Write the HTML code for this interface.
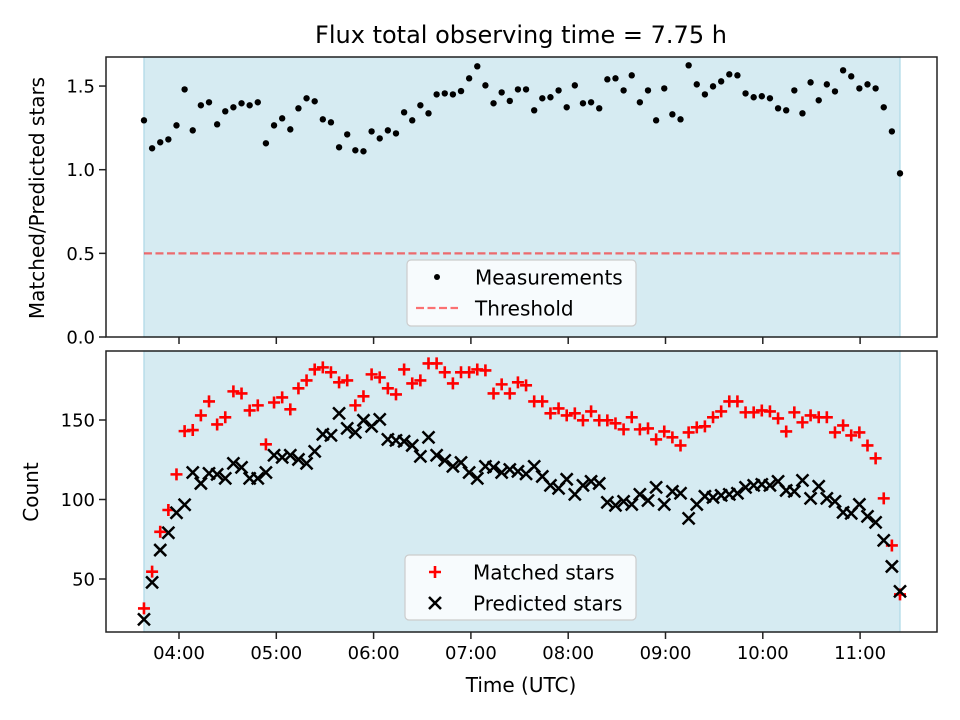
<!DOCTYPE html>
<html><head><meta charset="utf-8"><style>
body{margin:0;background:#fff}
svg{display:block;font-family:"DejaVu Sans","Liberation Sans",sans-serif}
</style></head><body>
<svg id="fig" width="960" height="720" viewBox="0 0 960 720">
<text x="521" y="43" font-size="24" text-anchor="middle" fill="#000">Flux total observing time = 7.75 h</text>
<g id="top"></g>
<g id="bot"></g>
<text x="521" y="692" font-size="20" text-anchor="middle">Time (UTC)</text>
<text transform="translate(44,198) rotate(-90)" font-size="20" text-anchor="middle">Matched/Predicted stars</text>
<text transform="translate(38,492) rotate(-90)" font-size="20" text-anchor="middle">Count</text>
</svg>
<script>
const startHour = 3.64;
const stepHours = 0.08355;
const ratio = [1.295,1.128,1.164,1.181,1.265,1.480,1.235,1.385,1.403,1.271,1.349,1.373,1.397,1.385,1.403,1.158,1.265,1.307,1.241,1.367,1.427,1.409,1.301,1.283,1.134,1.211,1.116,1.110,1.229,1.187,1.235,1.217,1.343,1.295,1.385,1.337,1.450,1.456,1.450,1.470,1.546,1.618,1.504,1.397,1.462,1.411,1.480,1.480,
1.355,1.427,1.433,1.474,1.373,1.504,1.397,1.403,1.367,1.540,1.546,1.474,1.564,1.403,1.474,1.295,1.486,1.331,1.301,1.624,1.510,1.450,1.498,1.528,1.570,1.564,1.456,1.433,1.439,1.427,1.367,1.355,1.474,1.337,1.522,1.415,1.510,1.468,1.594,1.558,1.486,1.510,1.486,1.373,1.229,0.978];
const matched = [31.5,54.6,79.7,93.4,115.8,143,143.7,152.9,161.7,147.2,151.7,168,166.7,156,159.2,134.7,161,164.2,156.7,169.9,174.9,181.8,183.1,180,173.7,174.9,159.2,164.9,178.7,176.8,169.9,166.1,181.8,173,174.9,185.6,185.6,180,173,180,180,181.8,181.2,166.7,172.4,166.7,173.7,171.8,
161.7,161.7,154.2,157.3,152.9,154.2,149.8,155.4,149.8,149.8,147.9,144.1,151.7,144.1,144.7,137.8,142.8,139.1,134,142.2,145.4,146,151.7,155.4,161.7,161.7,154.8,154.8,156,155.4,151,142.8,154.8,148.5,152.9,151.7,151.7,142.2,146.6,140.3,142.2,134,125.9,100.7,71.1,40.3];
const predicted = [24.6,47.9,68.2,79.1,91.7,96.7,117,110.1,116.4,115.8,113.3,122.7,120.2,113.3,113.3,117,127.8,126.5,127.8,125.2,122.7,130.3,141,140.3,154.2,144.7,142.2,149.8,146,150.4,137.8,137.2,136.6,134,127.1,139.1,127.8,124.6,120.8,123.3,117,113.3,120.8,120.2,117,118.9,117.7,116.1,
120.8,114.5,108.9,107,112.7,103.2,108.9,111.4,110.1,98.2,96.3,98.8,96.9,103.2,99.4,107.6,96.9,105.1,103.9,88.1,96.9,102,101.3,102.6,103.2,103.9,107.6,108.9,109.5,108.9,111.4,105.7,105.1,112,100.7,108.3,100.7,98.8,91.9,91.3,96.9,89.4,85.6,74.3,57.9,42.2];
const threshold = [0.5];
const xTickHours = [4,5,6,7,8,9,10,11];
const xTickLabels = ["04:00","05:00","06:00","07:00","08:00","09:00","10:00","11:00"];
const topYTicks = [0,0.5,1.0,1.5];
const topYLabels = ["0.0","0.5","1.0","1.5"];
const botYTicks = [50,100,150];
const botYLabels = ["50","100","150"];

const NS="http://www.w3.org/2000/svg";
function mk(tag, attrs, parent){const e=document.createElementNS(NS,tag);for(const k in attrs)e.setAttribute(k,attrs[k]);parent.appendChild(e);return e;}
const L=106,R=937;
const x=h=>179+(h-4)*97.3;
const times=ratio.map((_,i)=>startHour+i*stepHours);
const yTop=v=>337-v*167.3;
const yBot=v=>420-(v-150)*1.59;

function panel(g, top, bottom, yTicks, yLabels, yf, showXLabels){
  const span=mk('rect',{x:x(startHour),y:top,width:x(times[times.length-1])-x(startHour),height:bottom-top,fill:'#add8e6','fill-opacity':0.5,stroke:'#add8e6','stroke-width':1.2},g);
  
  
  xTickHours.forEach((h,i)=>{
    const t=mk('line',{x1:x(h),x2:x(h),y1:bottom,y2:bottom+7,stroke:'#222','stroke-width':1.5},g);
    
    
    if(showXLabels){
      const tx=mk('text',{x:x(h),y:bottom+27,'font-size':18,'text-anchor':'middle'},g);
      
      
      tx.textContent=xTickLabels[i];
    }
  });
  yTicks.forEach((v,i)=>{
    mk('line',{x1:L-7,x2:L,y1:yf(v),y2:yf(v),stroke:'#222','stroke-width':1.5},g);
    const tx=mk('text',{x:L-11,y:yf(v)+6.5,'font-size':18,'text-anchor':'end'},g);
    
    
    tx.textContent=yLabels[i];
  });
}
const gt=document.getElementById('top'), gb=document.getElementById('bot');
panel(gt,57,337,topYTicks,topYLabels,yTop,false);
panel(gb,351,632,botYTicks,botYLabels,yBot,true);

const th=mk('line',{x1:x(startHour),x2:x(times[times.length-1]),y1:yTop(threshold[0]),y2:yTop(threshold[0]),stroke:'#ff0000','stroke-opacity':0.55,'stroke-width':2.2,'stroke-dasharray':'8,3.5'},gt);


ratio.forEach((v,i)=>{
  const c=mk('circle',{cx:x(times[i]),cy:yTop(v),r:3.2,fill:'#000'},gt);
  
  
});
function plus(cx,cy,g,color){
  return mk('path',{d:`M${cx-6} ${cy}H${cx+6}M${cx} ${cy-6}V${cy+6}`,stroke:color,'stroke-width':2.6,fill:'none'},g);
}
function cross(cx,cy,g){
  return mk('path',{d:`M${cx-6} ${cy-6}L${cx+6} ${cy+6}M${cx-6} ${cy+6}L${cx+6} ${cy-6}`,stroke:'#000','stroke-width':2.5,fill:'none'},g);
}
matched.forEach((v,i)=>{
  const p=plus(x(times[i]),yBot(v),gb,'#ff0000');
  
  
});
predicted.forEach((v,i)=>{
  const p=cross(x(times[i]),yBot(v),gb);
  
  
});
[[gt,57,337],[gb,351,632]].forEach(([g,t,b])=>{
  const f=mk('rect',{x:L,y:t,width:R-L,height:b-t,fill:'none',stroke:'#222','stroke-width':1.5},g);
  
  
});
function legend(g,bx,by,w,h,items){
  const lg=mk('g',{},g);
  
  
  mk('rect',{x:bx,y:by,width:w,height:h,rx:4,fill:'#fff','fill-opacity':0.8,stroke:'#ccc','stroke-width':1.2},lg);
  items.forEach((it,i)=>{
    const cy=by+17+i*31;
    const e=mk('g',{},lg);
    
    
    it.draw(bx+30,cy,e);
    const t=mk('text',{x:bx+68,y:cy+7.5,'font-size':20},e);
    t.textContent=it.label;
  });
}
legend(gt,407,260,229,66,[
  {label:'Measurements',draw:(cx,cy,e)=>mk('circle',{cx:cx,cy:cy,r:3,fill:'#000'},e)},
  {label:'Threshold',draw:(cx,cy,e)=>mk('line',{x1:cx-21,x2:cx+21,y1:cy,y2:cy,stroke:'#ff0000','stroke-opacity':0.55,'stroke-width':2.2,'stroke-dasharray':'8,3.5'},e)}
]);
legend(gb,405,555,231,65,[
  {label:'Matched stars',draw:(cx,cy,e)=>plus(cx,cy,e,'#ff0000')},
  {label:'Predicted stars',draw:(cx,cy,e)=>cross(cx,cy,e)}
]);
</script>
</body></html>
